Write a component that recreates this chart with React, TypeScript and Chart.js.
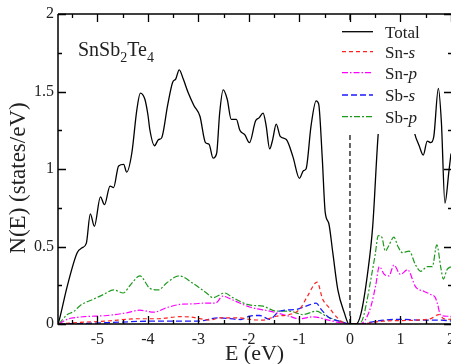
import React, { useEffect, useRef } from 'react';
import { Chart, registerables } from 'chart.js';
Chart.register(...registerables);

// ---------- data ----------
const totalE = [-5.78, -5.76, -5.6, -5.4, -5.31, -5.22, -5.14, -5.06, -4.94, -4.86, -4.75, -4.68, -4.58, -4.48, -4.42, -4.32, -4.22, -4.15, -4.06, -4.0, -3.96, -3.87, -3.79, -3.73, -3.61, -3.51, -3.45, -3.38, -3.30, -3.20, -3.09, -2.97, -2.86, -2.79, -2.71, -2.64, -2.58, -2.51, -2.43, -2.35, -2.25, -2.18, -2.08, -1.99, -1.87, -1.80, -1.72, -1.66, -1.59, -1.53, -1.46, -1.38, -1.26, -1.13, -1.00, -0.92, -0.87, -0.77, -0.67, -0.62, -0.55, -0.49, -0.42, -0.34, -0.24, -0.11, -0.02, 0.12, 0.22, 0.35, 0.45, 0.56, 0.7, 0.9, 1.1, 1.28, 1.37, 1.45, 1.53, 1.60, 1.66, 1.75, 1.81, 1.88, 1.96, 2.0];
const totalN = [0, 0.02, 0.24, 0.46, 0.49, 0.52, 0.71, 0.63, 0.82, 0.77, 0.89, 0.88, 1.02, 1.03, 0.98, 1.1, 1.38, 1.49, 1.45, 1.35, 1.25, 1.15, 1.19, 1.20, 1.41, 1.56, 1.58, 1.64, 1.58, 1.49, 1.41, 1.34, 1.17, 1.16, 1.07, 1.10, 1.36, 1.51, 1.45, 1.32, 1.32, 1.25, 1.22, 1.17, 1.31, 1.33, 1.36, 1.28, 1.13, 1.19, 1.29, 1.21, 1.19, 1.08, 0.94, 0.99, 1.00, 1.28, 1.44, 1.42, 1.08, 0.72, 0.65, 0.46, 0.22, 0.07, 0, 0, 0.07, 0.33, 0.63, 1.23, 1.6, 1.7, 1.55, 1.23, 1.15, 1.09, 1.18, 1.17, 1.21, 1.52, 1.3, 0.78, 0.99, 1.1];

const snSE = [-5.76, -5.38, -4.85, -4.2, -3.8, -3.37, -3.14, -2.88, -2.77, -2.58, -2.18, -1.99, -1.73, -1.46, -1.2, -1.0, -0.84, -0.65, -0.54, -0.41, -0.28, -0.06, 0.2, 0.64, 1.3, 1.6, 1.76, 1.85, 2.0];
const snSN = [0, 0.01, 0.018, 0.034, 0.034, 0.047, 0.044, 0.029, 0.025, 0.04, 0.04, 0.03, 0.025, 0.05, 0.061, 0.094, 0.18, 0.27, 0.16, 0.105, 0.05, 0, 0, 0.018, 0.025, 0.035, 0.061, 0.035, 0.03];

const snPE = [-5.76, -5.6, -5.47, -5.27, -4.81, -4.42, -4.16, -3.89, -3.63, -3.37, -3.10, -2.84, -2.66, -2.52, -2.32, -1.99, -1.59, -1.2, -1.0, -0.74, -0.34, 0, 0.2, 0.31, 0.42, 0.51, 0.58, 0.68, 0.77, 0.87, 1.0, 1.14, 1.30, 1.47, 1.6, 1.69, 1.74, 1.79, 1.92, 2.0];
const snPN = [0, 0.03, 0.04, 0.047, 0.055, 0.072, 0.089, 0.076, 0.105, 0.126, 0.13, 0.135, 0.135, 0.18, 0.155, 0.11, 0.083, 0.05, 0.033, 0.046, 0.018, 0, 0, 0.03, 0.12, 0.25, 0.37, 0.32, 0.31, 0.38, 0.32, 0.35, 0.24, 0.21, 0.19, 0.17, 0.12, 0.06, 0.05, 0.05];

const sbSE = [-5.76, -4.85, -3.93, -3.01, -2.62, -2.16, -1.99, -1.79, -1.59, -1.39, -1.07, -0.87, -0.67, -0.57, -0.41, -0.21, 0, 0.2, 0.51, 0.97, 1.43, 1.79, 2.0];
const sbSN = [0, 0.008, 0.018, 0.018, 0.04, 0.029, 0.05, 0.055, 0.03, 0.083, 0.094, 0.115, 0.135, 0.094, 0.04, 0.018, 0, 0, 0.018, 0.03, 0.025, 0.025, 0.02];

const sbPE = [-5.76, -5.6, -5.47, -5.34, -5.08, -4.88, -4.68, -4.49, -4.35, -4.16, -3.96, -3.79, -3.63, -3.38, -3.10, -2.84, -2.71, -2.48, -2.32, -1.99, -1.72, -1.46, -1.20, -0.93, -0.67, -0.47, -0.21, 0, 0.15, 0.25, 0.33, 0.42, 0.5, 0.56, 0.63, 0.7, 0.76, 0.87, 0.95, 1.04, 1.17, 1.3, 1.4, 1.53, 1.63, 1.72, 1.8, 1.85, 1.92, 2.0];
const sbPN = [0, 0.06, 0.08, 0.12, 0.16, 0.19, 0.22, 0.2, 0.25, 0.31, 0.23, 0.22, 0.265, 0.31, 0.26, 0.2, 0.17, 0.2, 0.17, 0.123, 0.115, 0.083, 0.083, 0.061, 0.083, 0.05, 0.018, 0, 0, 0.03, 0.14, 0.3, 0.45, 0.57, 0.56, 0.47, 0.5, 0.56, 0.5, 0.46, 0.47, 0.38, 0.34, 0.37, 0.37, 0.51, 0.36, 0.29, 0.35, 0.37];

const fermiE = [0, 0];
const fermiN = [0, 2];

const seriesNames = ['Total', 'Sn-', 'Sn-', 'Sb-', 'Sb-'];
const seriesOrbitals = ['', 's', 'p', 's', 'p'];

const xTickValues = [-5, -4, -3, -2, -1, 0, 1, 2];
const xTickLabels = ['-5', '-4', '-3', '-2', '-1', '0', '1', '2'];
const xMinorValues = [-5.5, -4.5, -3.5, -2.5, -1.5, -0.5, 0.5, 1.5];
const yTickValues = [0, 0.5, 1, 1.5, 2];
const yTickLabels = ['0', '0.5', '1', '1.5', '2'];
const yMinorValues = [0.25, 0.75, 1.25, 1.75];

const xTitle = 'E (eV)';
const yTitle = 'N(E) (states/eV)';

const pts = (xs: number[], ys: number[]) => xs.map((x, i) => ({ x, y: ys[i] }));

const SERIF = '"Liberation Serif", "DejaVu Serif", serif';

const decor = {
  id: 'decor',
  afterDatasetsDraw(chart: any) {
    const { ctx, chartArea: a, scales } = chart;
    const xs = scales.x, ys = scales.y;
    ctx.save();

    // legend box (opaque)
    const lx = a.left + 278, ly = a.top + 7, lw = 96, lh = 113;
    ctx.fillStyle = '#ffffff';
    ctx.fillRect(lx, ly, lw, lh);
    const rows = [31.7, 51.7, 72.7, 95, 116.6];
    rows.forEach((yy, i) => {
      const ds = chart.data.datasets[i];
      ctx.save();
      ctx.strokeStyle = ds.borderColor;
      ctx.lineWidth = ds.borderWidth;
      ctx.setLineDash(ds.borderDash || []);
      ctx.beginPath();
      ctx.moveTo(342, yy);
      ctx.lineTo(373, yy);
      ctx.stroke();
      ctx.restore();
      ctx.fillStyle = '#222';
      ctx.textBaseline = 'alphabetic';
      ctx.textAlign = 'left';
      ctx.font = `17px ${SERIF}`;
      const base = seriesNames[i];
      ctx.fillText(base, 385, yy + 6);
      const w = ctx.measureText(base).width;
      if (seriesOrbitals[i]) {
        ctx.font = `italic 17px ${SERIF}`;
        ctx.fillText(seriesOrbitals[i], 385 + w, yy + 6);
      }
    });

    // compound label
    ctx.fillStyle = '#222';
    ctx.textAlign = 'left';
    ctx.textBaseline = 'alphabetic';
    let tx = 78;
    const parts: [string, boolean][] = [['SnSb', false], ['2', true], ['Te', false], ['4', true]];
    parts.forEach(([t, sub]) => {
      ctx.font = sub ? `14px ${SERIF}` : `20px ${SERIF}`;
      ctx.fillText(t, tx, sub ? 61.5 : 56);
      tx += ctx.measureText(t).width;
    });

    // frame
    ctx.strokeStyle = '#000';
    ctx.lineWidth = 1.5;
    ctx.setLineDash([]);
    ctx.beginPath();
    ctx.moveTo(a.left, a.top);
    ctx.lineTo(a.right + 1, a.top);
    ctx.moveTo(a.left, a.top);
    ctx.lineTo(a.left, a.bottom);
    ctx.lineTo(a.right + 1, a.bottom);
    ctx.stroke();

    // inward ticks
    ctx.lineWidth = 1.3;
    ctx.beginPath();
    const xt = (v: number, len: number) => {
      const px = Math.round(xs.getPixelForValue(v)) + 0.5;
      ctx.moveTo(px, a.bottom); ctx.lineTo(px, a.bottom - len);
      ctx.moveTo(px, a.top); ctx.lineTo(px, a.top + len);
    };
    const yt = (v: number, len: number) => {
      const py = Math.round(ys.getPixelForValue(v)) + 0.5;
      ctx.moveTo(a.left, py); ctx.lineTo(a.left + len, py);
      ctx.moveTo(a.right + 1, py); ctx.lineTo(a.right + 1 - len, py);
    };
    xTickValues.forEach((v) => xt(v, 8));
    xMinorValues.forEach((v) => xt(v, 4));
    yTickValues.forEach((v) => yt(v, 8));
    yMinorValues.forEach((v) => yt(v, 4));
    ctx.stroke();

    // axis titles
    ctx.fillStyle = '#222';
    ctx.font = `22px ${SERIF}`;
    ctx.textAlign = 'center';
    ctx.textBaseline = 'middle';
    ctx.fillText(xTitle, (a.left + a.right) / 2, 354);
    ctx.save();
    ctx.font = `23px ${SERIF}`;
    ctx.translate(19, (a.top + a.bottom) / 2 + 9);
    ctx.rotate(-Math.PI / 2);
    ctx.fillText(yTitle, 0, 0);
    ctx.restore();

    ctx.restore();
  },
};

export default function App() {
  const ref = useRef<HTMLCanvasElement | null>(null);
  useEffect(() => {
    if (!ref.current) return;
    const common = { pointRadius: 0, fill: false, cubicInterpolationMode: 'monotone' as const };
    const chart = new Chart(ref.current, {
      type: 'line',
      data: {
        datasets: [
          { ...common, label: 'Total', data: pts(totalE, totalN), borderColor: '#000000', borderWidth: 1.3 },
          { ...common, label: 'Sn-s', data: pts(snSE, snSN), borderColor: '#ff2020', borderWidth: 1.2, borderDash: [4, 3] },
          { ...common, label: 'Sn-p', data: pts(snPE, snPN), borderColor: '#ff00ff', borderWidth: 1.2, borderDash: [6, 2, 1.5, 2] },
          { ...common, label: 'Sb-s', data: pts(sbSE, sbSN), borderColor: '#1a1aff', borderWidth: 1.3, borderDash: [6, 3] },
          { ...common, label: 'Sb-p', data: pts(sbPE, sbPN), borderColor: '#1f9a1f', borderWidth: 1.2, borderDash: [6, 2, 2, 2] },
          { ...common, label: 'EF', data: pts(fermiE, fermiN), borderColor: '#333333', borderWidth: 1.5, borderDash: [5, 3], cubicInterpolationMode: 'default', tension: 0 },
        ],
      },
      options: {
        responsive: false,
        animation: false,
        devicePixelRatio: 1,
        layout: { padding: { top: 14, right: -1, left: 0, bottom: 0 } },
        plugins: { legend: { display: false }, tooltip: { enabled: false }, title: { display: false } },
        scales: {
          x: {
            type: 'linear',
            min: -5.78,
            max: 2,
            grid: { display: false, drawTicks: false },
            border: { display: false },
            afterBuildTicks: (s: any) => { s.ticks = xTickValues.map((v) => ({ value: v })); },
            afterFit: (s: any) => { s.height = 40; s.paddingLeft = 0; s.paddingRight = 0; },
            ticks: {
              padding: 6,
              color: '#222',
              font: { family: SERIF, size: 16 },
              maxRotation: 0,
              autoSkip: false,
              callback: (v: any) => { const i = xTickValues.indexOf(Number(v)); return i >= 0 ? xTickLabels[i] : ''; },
            },
          },
          y: {
            type: 'linear',
            min: 0,
            max: 2,
            grid: { display: false, drawTicks: false },
            border: { display: false },
            afterBuildTicks: (s: any) => { s.ticks = yTickValues.map((v) => ({ value: v })); },
            afterFit: (s: any) => { s.width = 58; s.paddingTop = 0; s.paddingBottom = 0; },
            ticks: {
              padding: 4,
              color: '#222',
              font: { family: SERIF, size: 16 },
              autoSkip: false,
              callback: (v: any) => { const i = yTickValues.indexOf(Number(v)); return i >= 0 ? yTickLabels[i] : ''; },
            },
          },
        },
      },
      plugins: [decor],
    });
    return () => chart.destroy();
  }, []);
  return (
    <div style={{ position: 'absolute', left: 0, top: 0, width: 451, height: 364, background: '#fff' }}>
      <canvas ref={ref} width={451} height={364} style={{ display: 'block', width: 451, height: 364 }} />
    </div>
  );
}
